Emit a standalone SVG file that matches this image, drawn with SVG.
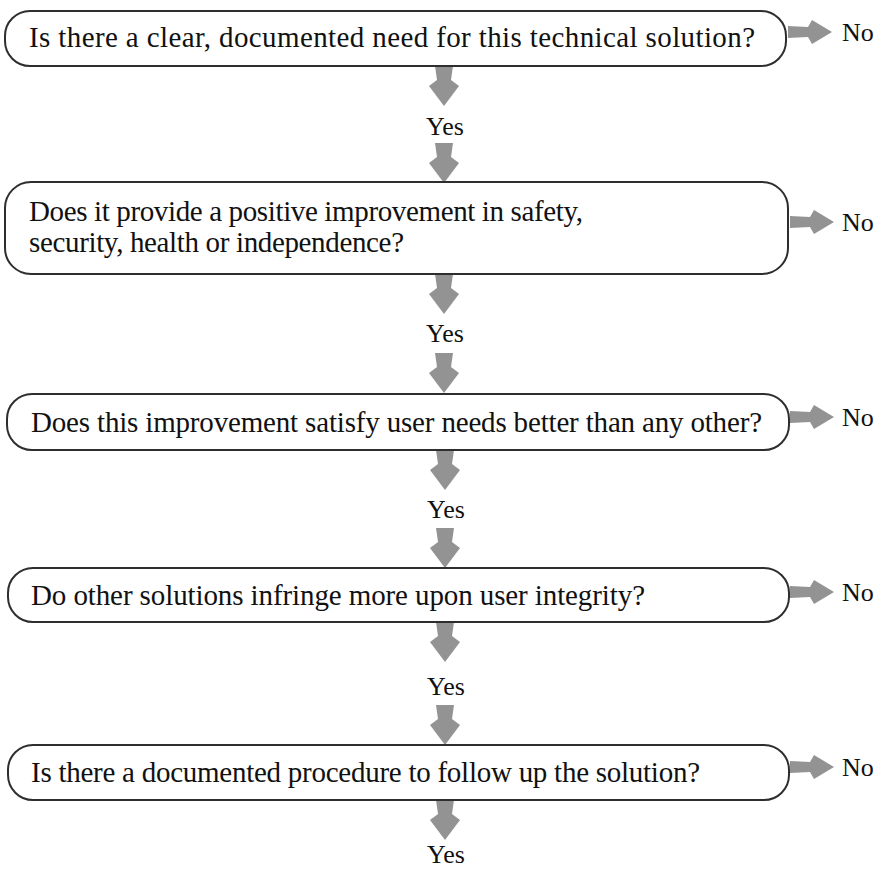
<svg xmlns="http://www.w3.org/2000/svg" xmlns:xlink="http://www.w3.org/1999/xlink" width="892" height="871" viewBox="0 0 892 871">
<style>
.box{fill:#fff;stroke:#2e2e2e;stroke-width:2}
.q{font-family:"Liberation Serif","Times New Roman",serif;font-size:29px;fill:#111}
.lbl{font-family:"Liberation Serif","Times New Roman",serif;font-size:26px;fill:#111}
.arr{fill:#939393}
</style>
<defs>
<path id="down" d="M -9,0 H 9 L 7,14 L 15,20 L 0,40 L -15,20 L -7,14 Z"/>
<path id="right" d="M 0,-6 L 20,-5 L 24,-12 L 44,0 L 24,12 L 20,5 L 0,6 Z"/>
</defs>
<rect width="892" height="871" fill="#fff"/>
<g id="connectors" class="arr">
<use xlink:href="#down" x="444" y="66"/>
<use xlink:href="#down" x="444" y="143"/>
<use xlink:href="#down" x="444" y="274"/>
<use xlink:href="#down" x="444" y="353"/>
<use xlink:href="#down" x="445" y="450"/>
<use xlink:href="#down" x="445" y="528"/>
<use xlink:href="#down" x="445" y="622"/>
<use xlink:href="#down" x="445" y="705"/>
<use xlink:href="#down" x="445" y="800"/>
<use xlink:href="#right" x="788" y="32"/>
<use xlink:href="#right" x="790" y="222"/>
<use xlink:href="#right" x="790" y="417"/>
<use xlink:href="#right" x="790" y="592"/>
<use xlink:href="#right" x="790" y="767"/>
</g>
<g id="q1">
<rect class="box" x="5" y="11" width="781" height="55" rx="25"/>
<text class="q" x="29" y="47" textLength="726">Is there a clear, documented need for this technical solution?</text>
</g>
<g id="q2">
<rect class="box" x="5" y="182" width="783" height="92" rx="26"/>
<text class="q" x="29" y="221" textLength="554">Does it provide a positive improvement in safety,</text>
<text class="q" x="29" y="252" textLength="375">security, health or independence?</text>
</g>
<g id="q3">
<rect class="box" x="7" y="394" width="782" height="56" rx="25"/>
<text class="q" x="31" y="432" textLength="731">Does this improvement satisfy user needs better than any other?</text>
</g>
<g id="q4">
<rect class="box" x="8" y="568" width="781" height="54" rx="25"/>
<text class="q" x="31" y="605" textLength="614">Do other solutions infringe more upon user integrity?</text>
</g>
<g id="q5">
<rect class="box" x="8" y="745" width="781" height="55" rx="25"/>
<text class="q" x="31" y="782" textLength="669">Is there a documented procedure to follow up the solution?</text>
</g>
<g id="labels" class="lbl">
<text x="842" y="41">No</text>
<text x="842" y="231">No</text>
<text x="842" y="426">No</text>
<text x="842" y="601">No</text>
<text x="842" y="776">No</text>
<text x="426" y="135">Yes</text>
<text x="426" y="342">Yes</text>
<text x="427" y="518">Yes</text>
<text x="427" y="695">Yes</text>
<text x="427" y="863">Yes</text>
</g>
</svg>
